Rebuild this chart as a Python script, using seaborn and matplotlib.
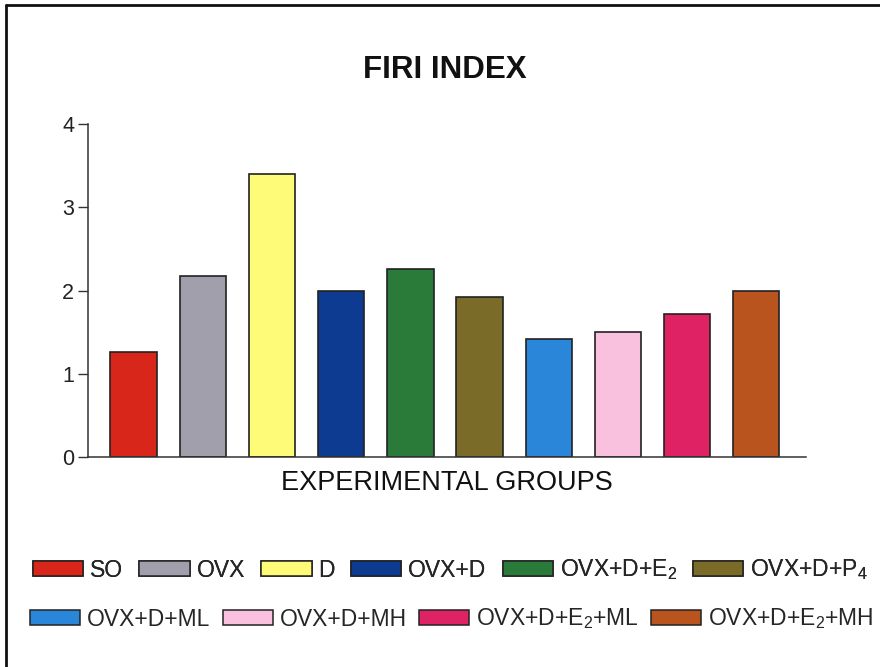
import matplotlib
matplotlib.use("Agg")
import matplotlib.pyplot as plt
from matplotlib.patches import Patch
from matplotlib.lines import Line2D
import seaborn as sns
import pandas as pd

groups = ["SO", "OVX", "D", "OVX+D", "OVX+D+E$_2$", "OVX+D+P$_4$",
          "OVX+D+ML", "OVX+D+MH", "OVX+D+E$_2$+ML", "OVX+D+E$_2$+MH"]
firi = [1.26, 2.17, 3.40, 1.99, 2.26, 1.92, 1.42, 1.50, 1.72, 1.99]
colors = ["#d8261a", "#a09fab", "#fdfb78", "#0d3b92", "#2a7a3a",
          "#7a6c28", "#2a86d8", "#f9c1dd", "#df2263", "#b9541e"]
yticks = [0, 1, 2, 3, 4]

sns.set_theme(style="white")
plt.rcParams["font.family"] = ["Liberation Sans", "DejaVu Sans"]
plt.rcParams["mathtext.fontset"] = "custom"
plt.rcParams["mathtext.rm"] = "Liberation Sans"
plt.rcParams["mathtext.it"] = "Liberation Sans"

df = pd.DataFrame({"group": groups, "firi": firi})

fig = plt.figure(figsize=(8.8, 6.67), dpi=100)
ax = fig.add_axes([0.1, 0.3148, 0.816, 0.4993])

sns.barplot(data=df, x="group", y="firi", hue="group", palette=colors,
            legend=False, width=0.67, edgecolor="#222222", linewidth=1.2,
            saturation=1, ax=ax)

ax.set_xlim(-0.66, 9.72)
ax.set_ylim(0, 4)
ax.set_yticks(yticks)
ax.set_yticklabels([str(t) for t in yticks], fontsize=15.5, color="#222222")
ax.set_xticks([])
ax.set_ylabel("")
ax.set_xlabel("EXPERIMENTAL GROUPS", fontsize=19.5, color="#111111", labelpad=9)
ax.tick_params(axis="y", which="major", direction="out", length=7,
               width=1, color="#333333", left=True, pad=3)
for side in ["top", "right"]:
    ax.spines[side].set_visible(False)
for side in ["left", "bottom"]:
    ax.spines[side].set_color("#333333")
    ax.spines[side].set_linewidth(1.1)

fig.text(0.505, 0.895, "FIRI INDEX", ha="center", va="center",
         fontsize=22.5, fontweight="bold", color="#111111")

handles = [Patch(facecolor=c, edgecolor="#222222", linewidth=1.1) for c in colors]

leg1 = fig.legend(handles[:6], groups[:6], loc="center left",
                  bbox_to_anchor=(33 / 880, 1 - 570 / 667), ncol=6,
                  frameon=False, fontsize=16.5, handlelength=2.2,
                  handleheight=0.6, handletextpad=0.3, columnspacing=0.7,
                  borderpad=0, borderaxespad=0)
fig.add_artist(leg1)
fig.legend(handles[6:], groups[6:], loc="center left",
           bbox_to_anchor=(30 / 880, 1 - 619 / 667), ncol=4,
           frameon=False, fontsize=16.5, handlelength=2.2,
           handleheight=0.6, handletextpad=0.3, columnspacing=0.52,
           borderpad=0, borderaxespad=0)

# outer frame of the panel
fig.add_artist(Line2D([6 / 880, 6 / 880], [0, 1 - 5 / 667],
                      transform=fig.transFigure, color="#111111", lw=2))
fig.add_artist(Line2D([6 / 880, 1], [1 - 5 / 667, 1 - 5 / 667],
                      transform=fig.transFigure, color="#111111", lw=2))

fig.savefig("out.png", dpi=100)
